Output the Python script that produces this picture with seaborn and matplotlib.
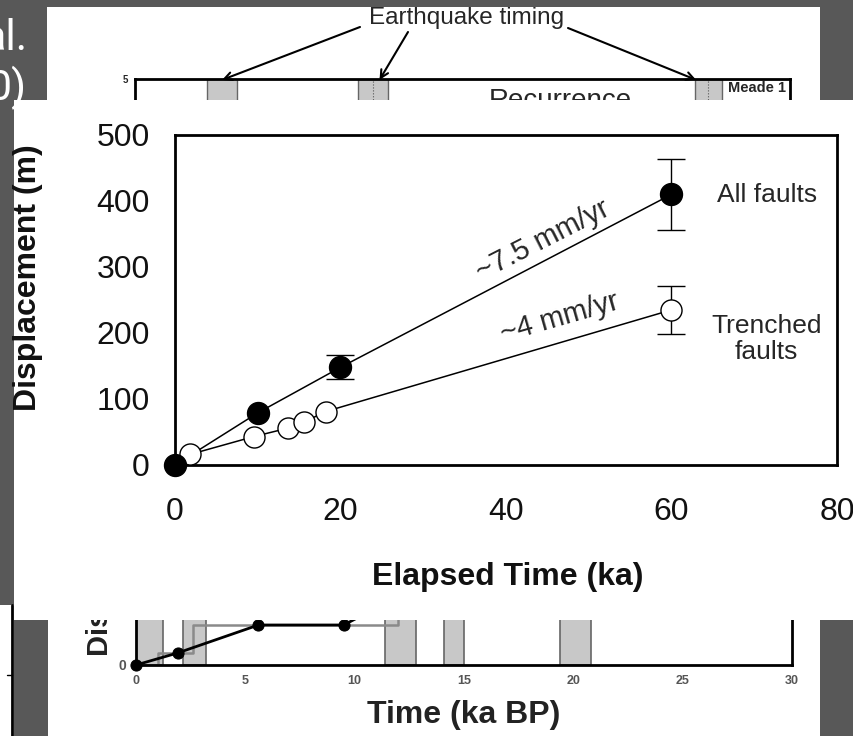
import numpy as np
import pandas as pd
import matplotlib
matplotlib.use("Agg")
import matplotlib.pyplot as plt
import seaborn as sns
from matplotlib.patches import Rectangle

# ---------------- main chart data ----------------
all_time = [0, 10, 20, 60]
all_disp = [0, 79, 148, 410]
all_err = [0, 0, 18, 54]
tr_time = [0, 1.8, 9.5, 13.7, 15.6, 18.2, 60]
tr_disp = [0, 16, 43, 56, 65, 81, 235]
tr_err = [0, 0, 0, 0, 0, 0, 36]
x_ticks = [0, 20, 40, 60, 80]
y_ticks = [0, 100, 200, 300, 400, 500]

# ---------------- background slide fragments ----------------
top_bar_start = [3.3, 10.2, 25.65]
top_bar_end = [4.67, 11.6, 26.9]
top_bar_mid = [10.9, 26.25]
arrow_targets = [3.99, 11.2, 25.7]

bot_bar_start = [0.0, 2.15, 11.4, 14.1, 19.4]
bot_bar_end = [1.25, 3.2, 12.8, 15.0, 20.8]
bot_line_t = [0, 1.9, 5.6, 9.5, 13.0]
bot_line_d = [0, 0.3, 1.0, 1.0, 2.0]
bot_step_t = [0, 1.0, 1.0, 2.6, 2.6, 12.0, 12.0]
bot_step_d = [0, 0, 0.3, 0.3, 1.0, 1.0, 1.5]
bot_ticks = [0, 5, 10, 15, 20, 25, 30]

sns.set_style("white")
plt.rcParams["font.family"] = ["Liberation Sans", "DejaVu Sans"]

W, H = 854, 736
fig = plt.figure(figsize=(W / 100, H / 100), dpi=100, facecolor="#585858")


def box(x0, y0, x1, y1):
    return [x0 / W, 1 - y1 / H, (x1 - x0) / W, (y1 - y0) / H]


def panel(x0, y0, x1, y1, z):
    fig.add_artist(Rectangle((x0 / W, 1 - y1 / H), (x1 - x0) / W, (y1 - y0) / H,
                             transform=fig.transFigure, facecolor="white",
                             edgecolor="none", zorder=z))


# white panels behind
panel(0, 605, 14, 736, -1)
panel(47, 7, 820, 130, -1)
panel(48, 590, 820, 736, -1)
# main white panel above the fragments
panel(14, 100, 854, 620, 2)

# left fragment line
fig.add_artist(plt.Line2D([12 / W, 12 / W], [0, 1 - 605 / H], color="black", lw=2,
                          transform=fig.transFigure, zorder=0))
fig.add_artist(plt.Line2D([7 / W, 12 / W], [1 - 675 / H, 1 - 675 / H], color="black", lw=1,
                          transform=fig.transFigure, zorder=0))

# slide title fragment
fig.text(28 / W, 1 - 38 / H, "al.", ha="right", va="center", color="white",
         fontsize=31, family=["Roboto", "DejaVu Sans"], zorder=1)
fig.text(27 / W, 1 - 88 / H, "0)", ha="right", va="center", color="white",
         fontsize=31, family=["Roboto", "DejaVu Sans"], zorder=1)

# ---------------- top fragment (recurrence) ----------------
ax_top = fig.add_axes(box(135, 79, 790, 300))
ax_top.set_facecolor("white")
ax_top.set_xlim(0, 30)
ax_top.set_ylim(0, 5)
for s in ax_top.spines.values():
    s.set_linewidth(2)
    s.set_color("black")
ax_top.set_xticks([])
ax_top.set_yticks([5])
ax_top.set_yticklabels(["5"], fontsize=7, fontweight="bold")
ax_top.tick_params(axis="y", direction="out", length=3, width=1, pad=2)
for s0, s1 in zip(top_bar_start, top_bar_end):
    ax_top.axvspan(s0, s1, facecolor="#c8c8c8", edgecolor="#666666", lw=1)
for m in top_bar_mid:
    ax_top.axvline(m, ls=":", color="#555555", lw=0.8)
ax_top.text(19.5, 4.5, "Recurrence", ha="center", va="center", fontsize=20)
ax_top.text(28.5, 4.8, "Meade 1", ha="center", va="center", fontsize=10.5, fontweight="bold")
starts = [(360, 27), (408, 32), (568, 28)]
for tgt, (px, py) in zip(arrow_targets, starts):
    ax_top.annotate("", xy=(tgt, 4.98), xycoords="data", xytext=(px, H - py),
                    textcoords="figure pixels", annotation_clip=False,
                    arrowprops=dict(arrowstyle="->", color="black", lw=1.5,
                                    shrinkA=0, shrinkB=0, mutation_scale=14))
fig.text(467 / W, 1 - 18 / H, "Earthquake timing", ha="center", va="center", fontsize=17.5)

# ---------------- bottom fragment (time ka BP) ----------------
ax_bot = fig.add_axes(box(136, 465, 792, 665))
ax_bot.set_facecolor("white")
ax_bot.set_xlim(0, 30)
ax_bot.set_ylim(0, 5)
ax_bot.spines["top"].set_visible(False)
for k in ["left", "right", "bottom"]:
    ax_bot.spines[k].set_linewidth(2)
    ax_bot.spines[k].set_color("black")
for s0, s1 in zip(bot_bar_start, bot_bar_end):
    ax_bot.axvspan(s0, s1, facecolor="#c8c8c8", edgecolor="#666666", lw=1.2)
ax_bot.plot(bot_step_t, bot_step_d, color="#8a8a8a", lw=1.8)
sns.lineplot(x=bot_line_t, y=bot_line_d, color="black", lw=2, marker="o",
             markersize=8, markeredgecolor="black", sort=False, ax=ax_bot,
             clip_on=False)
ax_bot.set_xticks(bot_ticks)
ax_bot.set_xticklabels([str(t) for t in bot_ticks], fontsize=9, fontweight="bold", color="#555555")
ax_bot.set_yticks([0])
ax_bot.set_yticklabels(["0"], fontsize=10, fontweight="bold", color="#555555")
ax_bot.tick_params(axis="both", direction="out", length=3, width=1, color="#555555", pad=4)
ax_bot.set_xlabel("")
ax_bot.set_ylabel("")
ax_bot.text(464 / W, 1 - 715 / H, "Time (ka BP)", transform=fig.transFigure,
            ha="center", va="center", fontsize=23, fontweight="bold", color="#222222")
ax_bot.text(100 / W, 1 - 656 / H, "Displacement (m)", transform=fig.transFigure,
            rotation=90, ha="center", va="bottom", fontsize=21, fontweight="bold", color="#222222")

# ---------------- main chart ----------------
ax = fig.add_axes(box(175, 135, 837, 465))
ax.set_zorder(3)
ax.set_facecolor("none")

sns.lineplot(x=all_time, y=all_disp, color="black", lw=1.1, ax=ax, zorder=2)
sns.lineplot(x=tr_time, y=tr_disp, color="black", lw=1.1, ax=ax, zorder=2)

at = np.array(all_time); ad = np.array(all_disp); ae = np.array(all_err)
tt = np.array(tr_time); td = np.array(tr_disp); te = np.array(tr_err)
ax.errorbar(at[ae > 0], ad[ae > 0], yerr=ae[ae > 0], fmt="none", ecolor="black",
            elinewidth=1, capsize=10, capthick=1, zorder=3)
ax.errorbar(tt[te > 0], td[te > 0], yerr=te[te > 0], fmt="none", ecolor="black",
            elinewidth=1, capsize=10, capthick=1, zorder=3)

sns.scatterplot(x=tt[1:], y=td[1:], s=230, facecolor="white", edgecolor="black",
                linewidth=1, ax=ax, zorder=4, clip_on=False)
sns.scatterplot(x=at, y=ad, s=250, color="black", edgecolor="black",
                linewidth=1, ax=ax, zorder=5, clip_on=False)

ax.set_xlim(0, 80)
ax.set_ylim(0, 500)
ax.set_xticks(x_ticks)
ax.set_yticks(y_ticks)
ax.set_xticklabels([str(v) for v in x_ticks])
ax.set_yticklabels([str(v) for v in y_ticks])
for s in ax.spines.values():
    s.set_visible(True)
    s.set_linewidth(2)
    s.set_color("black")
ax.tick_params(axis="both", direction="out", length=7, width=1, labelsize=23, color="black",
               labelcolor="#111111")
ax.tick_params(axis="y", pad=11)
ax.tick_params(axis="x", pad=16)

ax.set_xlabel("Elapsed Time (ka)", fontsize=23, fontweight="bold", color="#111111")
ax.set_ylabel("Displacement (m)", fontsize=23, fontweight="bold", color="#111111")
ax.xaxis.set_label_coords(0.502, -0.295)
ax.yaxis.set_label_coords(-0.20, 0.568)

ax.text(44.5, 341, "~7.5 mm/yr", rotation=27, ha="center", va="center", fontsize=21)
ax.text(46.5, 223, "~4 mm/yr", rotation=16, ha="center", va="center", fontsize=21)
ax.text(71.5, 409, "All faults", ha="center", va="center", fontsize=19)
ax.text(71.5, 191, "Trenched\nfaults", ha="center", va="center", fontsize=19, linespacing=1.15)

fig.savefig("out.png", dpi=100, facecolor=fig.get_facecolor())
